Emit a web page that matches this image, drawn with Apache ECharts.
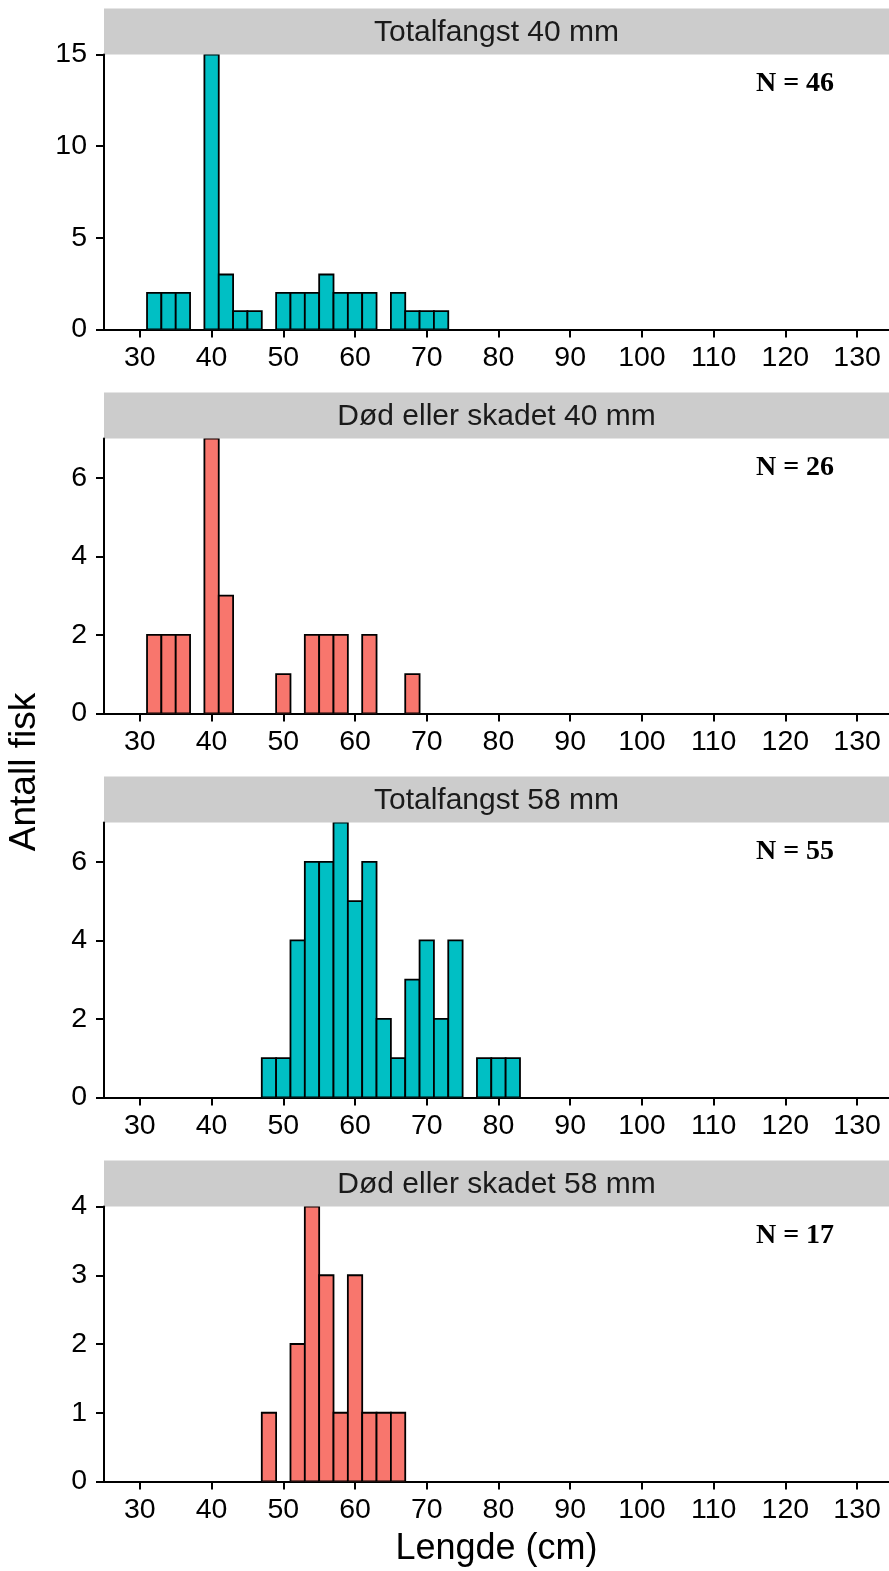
<!DOCTYPE html>
<html>
<head>
<meta charset="utf-8">
<script src="https://cdn.jsdelivr.net/npm/echarts@6/dist/echarts.min.js"></script>
<style>
html,body{margin:0;padding:0;background:#fff;}
#chart{width:889px;height:1571px;}
</style>
</head>
<body>
<div id="chart"></div>
<script>
// ---- data ----
const xTicks = [30, 40, 50, 60, 70, 80, 90, 100, 110, 120, 130];
const binStarts = [31, 33, 35, 37, 39, 41, 43, 45, 47, 49, 51, 53, 55, 57, 59, 61, 63, 65, 67, 69, 71, 73, 75, 77, 79, 81];
const binWidth = 2;
const totalfangst40 = [2, 2, 2, 0, 15, 3, 1, 1, 0, 2, 2, 2, 3, 2, 2, 2, 0, 2, 1, 1, 1, 0, 0, 0, 0, 0];
const dodSkadet40   = [2, 2, 2, 0, 7, 3, 0, 0, 0, 1, 0, 2, 2, 2, 0, 2, 0, 0, 1, 0, 0, 0, 0, 0, 0, 0];
const totalfangst58 = [0, 0, 0, 0, 0, 0, 0, 0, 1, 1, 4, 6, 6, 7, 5, 6, 2, 1, 3, 4, 2, 4, 0, 1, 1, 1];
const dodSkadet58   = [0, 0, 0, 0, 0, 0, 0, 0, 1, 0, 2, 4, 3, 1, 3, 1, 1, 1, 0, 0, 0, 0, 0, 0, 0, 0];
const panelTitles = ['Totalfangst 40 mm', 'Død eller skadet 40 mm', 'Totalfangst 58 mm', 'Død eller skadet 58 mm'];
const nLabels = ['N = 46', 'N = 26', 'N = 55', 'N = 17'];
const yMaxes = [15, 7, 7, 4];
const yTicks1 = [0, 5, 10, 15];
const yTicks2 = [0, 2, 4, 6];
const yTicks3 = [0, 2, 4, 6];
const yTicks4 = [0, 1, 2, 3, 4];
const xTitle = 'Lengde (cm)';
const yTitle = 'Antall fisk';

// ---- layout / style ----
const counts = [totalfangst40, dodSkadet40, totalfangst58, dodSkadet58];
const yTicks = [yTicks1, yTicks2, yTicks3, yTicks4];
const colors = ['#00BFC4', '#F8766D', '#00BFC4', '#F8766D'];
const gridLeft = 104, gridRight = 889, plotH = 275, stripH = 46;
const tops = [54.5, 438.5, 822.5, 1206.5];
const xMin = 25, xMax = 134.45;
const FONT = '"Liberation Sans", Arial, sans-serif';

const chart = echarts.init(document.getElementById('chart'), null, {renderer: 'canvas'});

const grids = [], xAxes = [], yAxes = [], series = [], graphics = [];
for (let i = 0; i < 4; i++) {
  grids.push({left: gridLeft, width: gridRight - gridLeft, top: tops[i], height: plotH, containLabel: false});
  xAxes.push({
    type: 'value', gridIndex: i, min: xMin, max: xMax,
    axisLine: {show: true, onZero: false, lineStyle: {color: '#000', width: 2}},
    axisTick: {show: true, length: 8, lineStyle: {color: '#000', width: 2}, customValues: xTicks},
    axisLabel: {show: true, fontSize: 28.5, color: '#000', fontFamily: FONT, margin: 14, customValues: xTicks},
    splitLine: {show: false}
  });
  yAxes.push({
    type: 'value', gridIndex: i, min: 0, max: yMaxes[i],
    axisLine: {show: true, lineStyle: {color: '#000', width: 2}},
    axisTick: {show: true, length: 8, lineStyle: {color: '#000', width: 2}, customValues: yTicks[i]},
    axisLabel: {show: true, fontSize: 28.5, color: '#000', fontFamily: FONT, margin: 17, customValues: yTicks[i]},
    splitLine: {show: false}
  });
  const data = [];
  binStarts.forEach((b, k) => { if (counts[i][k] > 0) data.push([b, b + binWidth, counts[i][k]]); });
  const col = colors[i];
  series.push({
    type: 'custom', xAxisIndex: i, yAxisIndex: i, data: data,
    clip: true,
    renderItem: function (params, api) {
      const p0 = api.coord([api.value(0), 0]);
      const p1 = api.coord([api.value(1), api.value(2)]);
      return {
        type: 'rect',
        shape: {x: p0[0], y: p1[1], width: p1[0] - p0[0], height: p0[1] - p1[1]},
        style: {fill: col, stroke: '#000', lineWidth: 1.8}
      };
    }
  });
  // strip
  graphics.push({
    type: 'rect', shape: {x: gridLeft, y: tops[i] - stripH, width: gridRight - gridLeft, height: stripH},
    style: {fill: '#CCCCCC'}, z: 0
  });
  graphics.push({
    type: 'text', x: (gridLeft + gridRight) / 2, y: tops[i] - stripH / 2 + 1,
    style: {text: panelTitles[i], font: '30px ' + FONT, fill: '#1a1a1a', align: 'center', verticalAlign: 'middle'}, z: 10
  });
  // N label
  graphics.push({
    type: 'text', x: 795, y: tops[i] + 29,
    style: {text: nLabels[i], font: 'bold 28px "Liberation Serif", "Times New Roman", serif', fill: '#000', align: 'center', verticalAlign: 'middle'}, z: 10
  });
}
graphics.push({
  type: 'text', x: (gridLeft + gridRight) / 2, y: 1549,
  style: {text: xTitle, font: '36px ' + FONT, fill: '#000', align: 'center', verticalAlign: 'middle'}
});
graphics.push({
  type: 'text', x: 25, y: 772, rotation: Math.PI / 2,
  style: {text: yTitle, font: '37px ' + FONT, fill: '#000', align: 'center', verticalAlign: 'middle'}
});

chart.setOption({
  animation: false,
  backgroundColor: '#fff',
  grid: grids, xAxis: xAxes, yAxis: yAxes, series: series,
  graphic: graphics
});
</script>
</body>
</html>
